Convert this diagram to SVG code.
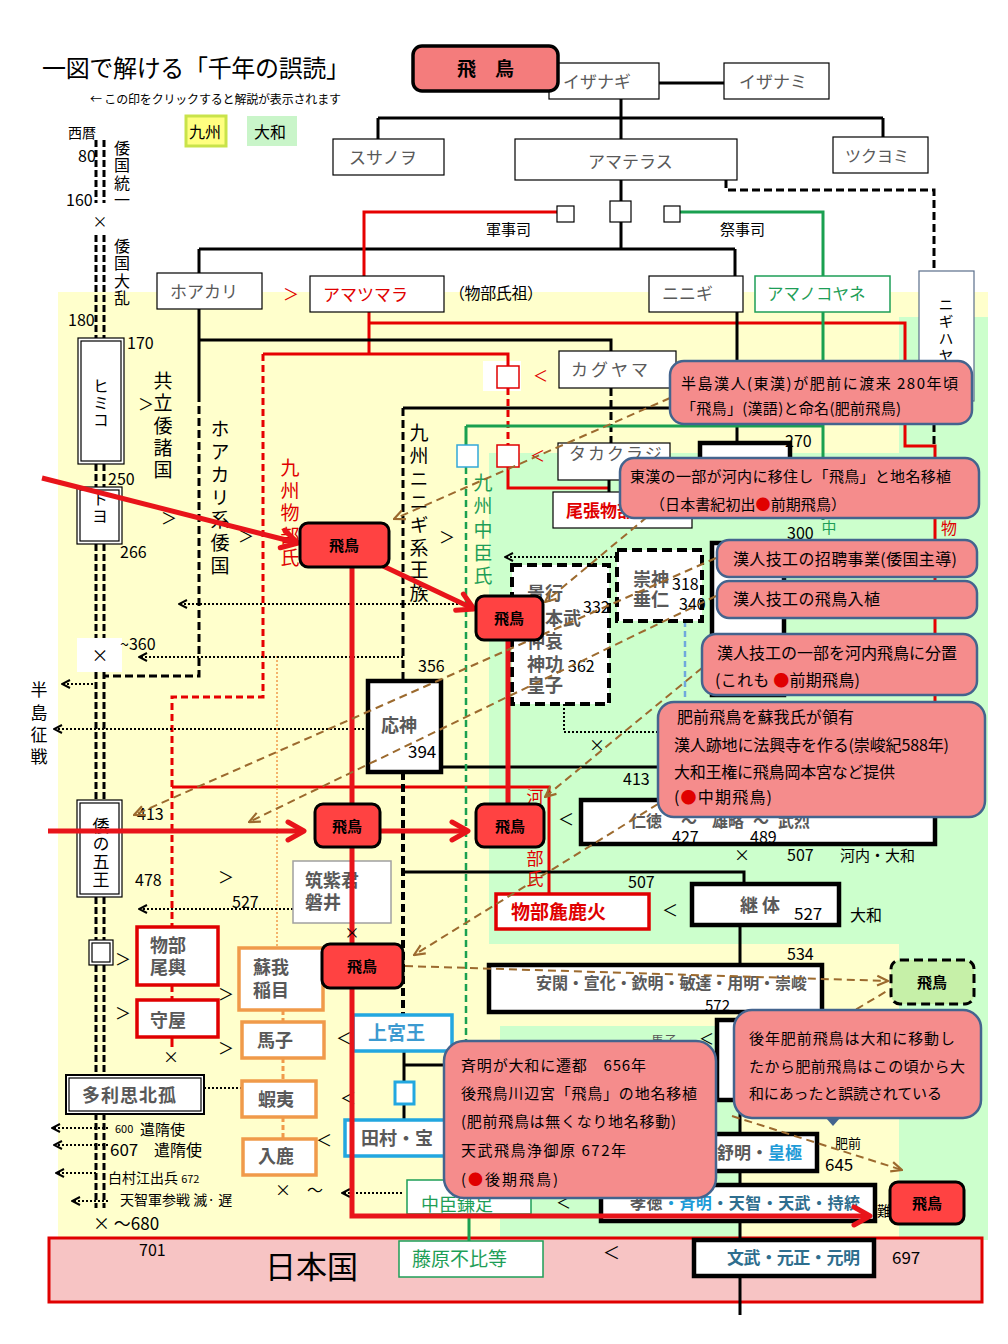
<svg xmlns="http://www.w3.org/2000/svg" width="1008" height="1344" viewBox="0 0 1008 1344">
<defs>
<style>
text{font-family:"Noto Sans CJK JP","Noto Sans CJK SC",sans-serif;fill:#000}
.v{writing-mode:vertical-rl}
.gy{fill:#595959}
.b{font-weight:bold}
.rt{fill:#E00000}
.gt{fill:#1E9E57}
.bt{fill:#1E9BD7}
.tt{fill:#2E6E8E}
.bx{fill:#fff;stroke:#000;stroke-width:1.2}
.bx4{fill:#fff;stroke:#000;stroke-width:4.5}
.bxr{fill:#fff;stroke:#E00000;stroke-width:3.5}
.bxo{fill:#fff;stroke:#F09A4A;stroke-width:3.5}
.bxc{fill:#fff;stroke:#22A7E0;stroke-width:3.5}
.bxg{fill:#fff;stroke:#1E9E57;stroke-width:1.5}
.bxd{fill:#fff;stroke:#000;stroke-width:4;stroke-dasharray:10 5}
.asu{fill:#FF4242;stroke:#000;stroke-width:3}
.cal{fill:#F58C8C;stroke:#44648E;stroke-width:2.5}
.ln{fill:none;stroke:#000;stroke-width:3}
.dl{fill:none;stroke:#000;stroke-width:3;stroke-dasharray:8 4}
.rl{fill:none;stroke:#E60000;stroke-width:3}
.rd{fill:none;stroke:#E60000;stroke-width:3;stroke-dasharray:7 4}
.gl{fill:none;stroke:#1AA050;stroke-width:3}
.gd{fill:none;stroke:#1AA050;stroke-width:2.5;stroke-dasharray:7 4}
.dt{fill:none;stroke:#000;stroke-width:2;stroke-dasharray:2 2}
.br{fill:none;stroke:#9C6A2E;stroke-width:2;stroke-dasharray:8 5}
.ra{fill:none;stroke:#E8141A;stroke-width:5}
.tl{fill:none;stroke:#000;stroke-width:3;stroke-dasharray:7 3}
.ct{font-size:15px}
</style>
<marker id="md" viewBox="0 0 10 10" refX="9" refY="5" markerWidth="10" markerHeight="10" orient="auto" markerUnits="userSpaceOnUse"><path d="M1,1L9,5L1,9" fill="none" stroke="#000" stroke-width="2"/></marker>
<marker id="mb" viewBox="0 0 12 12" refX="11" refY="6" markerWidth="13" markerHeight="13" orient="auto" markerUnits="userSpaceOnUse"><path d="M1,1.5L11,6L1,10.5" fill="none" stroke="#9C6A2E" stroke-width="2"/></marker>
<marker id="mr" viewBox="0 0 24 24" refX="21" refY="12" markerWidth="24" markerHeight="24" orient="auto" markerUnits="userSpaceOnUse"><path d="M5,3L21,12L5,21" fill="none" stroke="#E8141A" stroke-width="5" stroke-linecap="round" stroke-linejoin="round"/></marker>
</defs>

<!-- backgrounds -->
<rect width="1008" height="1344" fill="#fff"/>
<rect x="58" y="292" width="930" height="948" fill="#FFFFCC"/>
<rect x="899" y="317" width="89" height="923" fill="#CCFFCC"/>
<rect x="489" y="453" width="410" height="491" fill="#CCFFCC"/>
<rect x="500" y="1026" width="240" height="212" fill="#CCFFCC"/>
<rect x="49" y="1238" width="933" height="64" fill="#F7C4C4" stroke="#E00000" stroke-width="3"/>
<rect x="483" y="361" width="38" height="30" fill="#fff"/>
<rect x="77" y="638" width="45" height="34" fill="#fff"/>

<!-- header -->
<text x="42" y="77" font-size="24" textLength="308">一図で解ける「千年の誤読」</text>
<text x="90" y="104" font-size="12" textLength="251">← この印をクリックすると解説が表示されます</text>
<g id="legend-kyushu"><rect x="186" y="116" width="40" height="30" fill="#FFFF80" stroke="#C9E34A" stroke-width="3"/><text x="189" y="138" font-size="16">九州</text></g>
<g id="legend-yamato"><rect x="247" y="116" width="50" height="30" fill="#C9F5C9"/><text x="254" y="138" font-size="16">大和</text></g>

<!-- connectors -->
<g id="connectors">
<path class="tl" d="M96,140V203M104,140V203M96,235V338M104,235V338M96,464V487M104,464V487M96,544V638M104,544V638M96,672V800M104,672V800M96,897V940M104,897V940M96,965V1075M104,965V1075M96,1113V1208M104,1113V1208"/>
<path class="ln" d="M659,83H724M621,99V139M378,118H883M378,118V139M883,118V137M621,180V249M199,249H735M199,249V273M735,249V276"/>
<path class="dl" d="M726,180V190H934V271"/>
<path class="rl" d="M557,212H364V276"/>
<path class="gl" d="M680,212H823V276"/>
<path class="rl" d="M369,312V354M263,354H508V366M369,323H905V446H935V702"/>
<path class="rd" d="M263,354V697H172V927M172,985V1000M508,388V445"/>
<path class="rl" d="M172,787H549V894M508,467V488H609M172,1037V1047"/>
<path class="ln" d="M199,309V394M199,340H611V351M609,480V492"/>
<path class="dl" d="M199,394V676H104"/>
<path class="dl" d="M611,388V443"/>
<path class="ln" d="M737,312V443M403,408H737"/>
<path class="dl" d="M403,408V681"/>
<path class="dl" d="M403,772V1015" style="stroke-width:4"/>
<path class="ln" d="M403,872H744V884M441,767H700M740,923V1315"/>
<path class="dl" d="M934,400V446"/>
<path class="gl" d="M466,426H823M823,312V520M466,426V445M469,1214V1241"/>
<path class="gd" d="M466,467V1180"/>
<path d="M685,621V702" fill="none" stroke="#6FA8DC" stroke-width="2.5" stroke-dasharray="6 4"/>
<path d="M277,656V948" fill="none" stroke="#F09A4A" stroke-width="1.5" stroke-dasharray="2 2"/>
<path d="M283,1010V1022M283,1058V1081M283,1117V1139" fill="none" stroke="#F09A4A" stroke-width="3" stroke-dasharray="5 3"/>
<path class="ln" d="M404,1051V1082M404,1104V1120M404,1065H446"/>
<path class="dt" d="M470,604H179" marker-end="url(#md)"/>
<path class="dt" d="M403,657H139" marker-end="url(#md)"/>
<path class="dt" d="M97,684H62" marker-end="url(#md)"/>
<path class="dt" d="M368,729H54" marker-end="url(#md)"/>
<path class="dt" d="M293,909H139" marker-end="url(#md)"/>
<path class="dt" d="M616,557H505" marker-end="url(#md)"/>
<path class="dt" d="M204,1088H242"/>
<path class="dt" d="M108,1128H52" marker-end="url(#md)"/>
<path class="dt" d="M108,1145H54" marker-end="url(#md)"/>
<path class="dt" d="M96,1173H56" marker-end="url(#md)"/>
<path class="dt" d="M108,1201H72" marker-end="url(#md)"/>
<path class="dt" d="M402,1193H342" marker-end="url(#md)"/>
<path class="dt" d="M564,704V732H658"/>
</g>

<!-- nodes -->
<g id="n-izanagi"><rect class="bx" x="549" y="63" width="110" height="36"/><text class="gy" x="563" y="88" font-size="17">イザナギ</text></g>
<g id="n-asuka-title"><rect x="413" y="46" width="145" height="45" rx="9" fill="#F47C7C" stroke="#000" stroke-width="3.5"/><text class="b" x="485.5" y="76" font-size="19" text-anchor="middle">飛　鳥</text></g>
<g id="n-izanami"><rect class="bx" x="724" y="63" width="105" height="36"/><text class="gy" x="739" y="88" font-size="17">イザナミ</text></g>
<g id="n-susanoo"><rect class="bx" x="333" y="139" width="111" height="36"/><text class="gy" x="349" y="164" font-size="17">スサノヲ</text></g>
<g id="n-amaterasu"><rect class="bx" x="515" y="139" width="222" height="41"/><text class="gy" x="588" y="168" font-size="17">アマテラス</text></g>
<g id="n-tsukuyomi"><rect class="bx" x="833" y="137" width="95" height="36"/><text class="gy" x="845" y="162" font-size="16">ツクヨミ</text></g>
<g id="n-sq"><rect class="bx" x="610" y="201" width="21" height="21"/><rect class="bx" x="557" y="206" width="17" height="16"/><rect class="bx" x="664" y="206" width="16" height="16"/></g>
<text x="486" y="235" font-size="15">軍事司</text>
<text x="720" y="235" font-size="15">祭事司</text>
<g id="n-hoakari"><rect class="bx" x="157" y="273" width="105" height="36"/><text class="gy" x="170" y="298" font-size="17">ホアカリ</text></g>
<text class="rt" x="283" y="300" font-size="16">＞</text>
<g id="n-amatsumara"><rect class="bx" x="310" y="276" width="134" height="36"/><text class="rt" x="323" y="301" font-size="17">アマツマラ</text></g>
<text x="449" y="299" font-size="16" textLength="94">（物部氏祖）</text>
<g id="n-ninigi"><rect class="bx" x="649" y="276" width="94" height="36"/><text class="gy" x="662" y="300" font-size="17">ニニギ</text></g>
<g id="n-amanokoyane"><rect x="755" y="276" width="135" height="36" fill="#fff" stroke="#1E9E57" stroke-width="1.5"/><text class="gt" x="767" y="300" font-size="16.5">アマノコヤネ</text></g>
<g id="n-nigihayahi"><rect x="919" y="271" width="55" height="130" fill="#fff" stroke="#5A6E8A" stroke-width="1.2"/><text class="v" x="946" y="297" font-size="15" letter-spacing="2">ニギハヤ</text></g>

<g id="n-kaguyama"><rect class="bx" x="559" y="351" width="117" height="37"/><text class="gy" x="571" y="376" font-size="17" letter-spacing="3">カグヤマ</text></g>
<g id="n-redsq"><rect x="497" y="366" width="22" height="22" fill="#fff" stroke="#E00000" stroke-width="1.5"/><rect x="497" y="445" width="22" height="22" fill="#fff" stroke="#E00000" stroke-width="1.5"/><rect x="457" y="445" width="21" height="22" fill="#fff" stroke="#33A8D8" stroke-width="1.5"/></g>
<text class="rt" x="533" y="381" font-size="15">＜</text>
<text class="rt" x="530" y="461" font-size="15">＜</text>
<g id="n-takakuraji"><rect class="bx" x="558" y="443" width="112" height="37"/><text class="gy" x="569" y="460" font-size="17" letter-spacing="2">タカクラジ</text></g>
<g id="n-owari"><rect class="bx" x="553" y="492" width="139" height="36"/><text class="rt b" x="566" y="517" font-size="17">尾張物部</text></g>
<g id="n-jinmu"><rect class="bx4" x="700" y="443" width="90" height="70"/></g>
<rect class="bx4" x="712" y="543" width="72" height="152"/>
<text x="785" y="447" font-size="16">270</text>
<text x="787" y="539" font-size="16">300</text>

<!-- left column -->
<text x="68" y="138" font-size="14">西暦</text>
<text x="78" y="162" font-size="16">80</text>
<text x="66" y="206" font-size="16">160</text>
<text x="100" y="227" font-size="15" text-anchor="middle">×</text>
<text x="68" y="326" font-size="16">180</text>
<text x="127" y="349" font-size="16">170</text>
<text x="108" y="485" font-size="16">250</text>
<text x="120" y="558" font-size="16">266</text>
<text x="120" y="650" font-size="16">~360</text>
<text x="100" y="662" font-size="17" text-anchor="middle">×</text>
<text class="v" x="122" y="140" font-size="16" letter-spacing="1.3">倭国統一</text>
<text class="v" x="122" y="238" font-size="16" letter-spacing="1.3">倭国大乱</text>
<g id="n-himiko"><rect class="bx" x="78" y="338" width="46" height="126"/><rect class="bx" x="81" y="341" width="40" height="120"/><text class="v" x="101" y="378" font-size="16" letter-spacing="1">ヒミコ</text></g>
<g id="n-toyo"><rect class="bx" x="77" y="487" width="45" height="57"/><rect class="bx" x="80" y="490" width="39" height="51"/><text class="v" x="100" y="491" font-size="16" letter-spacing="1">トヨ</text></g>
<text class="v" x="163" y="371.5" font-size="19" letter-spacing="3.25">共立倭諸国</text>
<text x="138" y="410" font-size="16">＞</text>
<text x="161" y="524" font-size="16">＞</text>
<text class="v" x="220" y="419.5" font-size="19" letter-spacing="3.8">ホアカリ系倭国</text>
<text x="238" y="542" font-size="16">＞</text>
<text class="v rt" x="290" y="458.5" font-size="19" letter-spacing="3.5">九州物部氏</text>
<text class="v" x="419" y="423.5" font-size="19" letter-spacing="3.86">九州ニニギ系王族</text>
<text x="439" y="543" font-size="16">＞</text>
<text class="v gt" x="483" y="473.5" font-size="19" letter-spacing="4.25">九州中臣氏</text>
<text class="gt" x="829" y="533" font-size="15" text-anchor="middle">中</text>
<text class="rt" x="949" y="534" font-size="16" text-anchor="middle">物</text>
<text class="v" x="39" y="681.5" font-size="17" letter-spacing="5.3">半島征戦</text>

<g id="n-keiko"><rect class="bxd" x="512" y="565" width="97" height="139"/><text class="gy b" x="527" font-size="18"><tspan x="527" y="600">景行</tspan><tspan x="527" y="625">日本武</tspan><tspan x="527" y="648">仲哀</tspan><tspan x="527" y="671">神功</tspan><tspan x="527" y="692">皇子</tspan></text><text x="583" y="613" font-size="16">332</text><text x="568" y="672" font-size="16">362</text></g>
<g id="n-sujin"><rect class="bxd" x="617" y="550" width="85" height="71"/><text class="gy b" x="633" font-size="18"><tspan x="633" y="586">崇神</tspan><tspan x="633" y="606">垂仁</tspan></text><text x="672" y="590" font-size="16">318</text><text x="679" y="610" font-size="16">340</text></g>
<text x="418" y="672" font-size="16">356</text>
<g id="n-ojin"><rect class="bx4" x="368" y="681" width="73" height="91"/><text class="gy b" x="381" y="732" font-size="18">応神</text><text x="408" y="758" font-size="17">394</text></g>
<text x="623" y="785" font-size="16">413</text>
<text x="597" y="751" font-size="16" text-anchor="middle">×</text>
<text class="v rt" x="535" y="788.5" font-size="17" letter-spacing="3.5">河内物部氏</text>
<g id="n-nintoku"><rect class="bx4" x="581" y="800" width="354" height="44"/><text class="gy b" x="630" y="827" font-size="16">仁徳</text><text class="gy b" x="681" y="827" font-size="16">～</text><text class="gy b" x="712" y="827" font-size="16">雄略</text><text class="gy b" x="753" y="827" font-size="16">～</text><text class="gy b" x="778" y="827" font-size="16">武烈</text><text x="672" y="843" font-size="16">427</text><text x="750" y="843" font-size="16">489</text></g>
<text x="558" y="825" font-size="16">＜</text>
<text x="742" y="861" font-size="16" text-anchor="middle">×</text>
<text x="787" y="861" font-size="16">507</text>
<text x="840" y="861" font-size="15">河内・大和</text>
<text x="628" y="888" font-size="16">507</text>
<text x="662" y="916" font-size="16">＜</text>
<g id="n-keitai"><rect class="bx4" x="692" y="884" width="147" height="41"/><text class="gy b" x="740" y="912" font-size="18">継 体</text><text x="794" y="920" font-size="17">527</text></g>
<text x="850" y="921" font-size="16">大和</text>
<text x="787" y="960" font-size="16">534</text>
<g id="n-ankan"><rect class="bx4" x="489" y="965" width="333" height="47"/><text class="gy b" x="536" y="989" font-size="16" textLength="271">安閑・宣化・欽明・敏達・用明・崇峻</text><text x="705" y="1011" font-size="15">572</text></g>
<g id="n-ikaruga"><rect class="bx4" x="717" y="1020" width="90" height="80"/></g>
<text class="gy" x="651" y="1045" font-size="13">馬子</text>
<text x="699" y="1044" font-size="15">＜</text>
<g id="n-jomei"><rect class="bx4" x="690" y="1134" width="127" height="37"/><text class="b" x="717" y="1159" font-size="17"><tspan class="gy">舒明・</tspan><tspan class="bt">皇極</tspan></text></g>
<text x="835" y="1148" font-size="13">肥前</text>
<text x="825" y="1171" font-size="17">645</text>
<g id="n-kotoku"><rect class="bx4" x="601" y="1185" width="274" height="36"/><text class="b" x="630" y="1209" font-size="16" textLength="230"><tspan class="gy">孝徳</tspan><tspan class="bt">・斉明</tspan><tspan class="tt">・天智・天武・持統</tspan></text></g>
<text x="877" y="1216" font-size="14">難</text>
<text x="556" y="1208" font-size="15">＜</text>
<g id="n-monmu"><rect class="bx4" x="694" y="1240" width="180" height="36"/><text class="tt b" x="727" y="1264" font-size="17" textLength="133">文武・元正・元明</text></g>
<text x="892" y="1264" font-size="17">697</text>
<text x="603" y="1259" font-size="17">＜</text>

<g id="n-wa5"><rect class="bx" x="77" y="800" width="45" height="97"/><rect class="bx" x="80" y="803" width="39" height="91"/><text class="v" x="101" y="817.5" font-size="17" letter-spacing="1">倭の五王</text></g>
<text x="137" y="820" font-size="16">413</text>
<text x="135" y="886" font-size="16">478</text>
<text x="218" y="883" font-size="16">＞</text>
<text x="232" y="908" font-size="16">527</text>
<g id="n-iwai"><rect x="293" y="861" width="98" height="62" fill="#fff" stroke="#A0A0A0" stroke-width="1.5"/><text class="gy b" x="305" font-size="18"><tspan x="305" y="887">筑紫君</tspan><tspan x="305" y="909">磐井</tspan></text></g>
<g id="n-sq2"><rect class="bx" x="89" y="940" width="24" height="25"/><rect class="bx" x="92" y="943" width="18" height="19"/></g>
<text x="115" y="965" font-size="16">＞</text>
<text x="115" y="1019" font-size="16">＞</text>
<g id="n-okoshi"><rect class="bxr" x="137" y="927" width="81" height="58"/><text class="gy b" x="150" font-size="18"><tspan x="150" y="952">物部</tspan><tspan x="150" y="974">尾輿</tspan></text></g>
<g id="n-moriya"><rect class="bxr" x="137" y="1000" width="81" height="37"/><text class="gy b" x="150" y="1027" font-size="18">守屋</text></g>
<text x="171" y="1063" font-size="16" text-anchor="middle">×</text>
<text x="218" y="1000" font-size="16">＞</text>
<text x="218" y="1054" font-size="16">＞</text>
<g id="n-iname"><rect class="bxo" x="239" y="948" width="84" height="62"/><text class="gy b" x="253" font-size="18"><tspan x="253" y="974">蘇我</tspan><tspan x="253" y="997">稲目</tspan></text></g>
<g id="n-umako"><rect class="bxo" x="242" y="1022" width="82" height="36"/><text class="gy b" x="257" y="1047" font-size="18">馬子</text></g>
<g id="n-emishi"><rect class="bxo" x="242" y="1081" width="74" height="36"/><text class="gy b" x="258" y="1106" font-size="18">蝦夷</text></g>
<g id="n-iruka"><rect class="bxo" x="243" y="1139" width="73" height="36"/><text class="gy b" x="258" y="1163" font-size="18">入鹿</text></g>
<text x="275" y="1196" font-size="16">×　～</text>
<g id="n-tarishi"><rect x="66" y="1075" width="138" height="39" fill="#fff" stroke="#000" stroke-width="2"/><rect class="bx" x="69" y="1078" width="132" height="33"/><text class="gy b" x="82" y="1102" font-size="18" letter-spacing="1">多利思北孤</text></g>
<text x="115" y="1133" font-size="11">600</text>
<text x="140" y="1135" font-size="15">遣隋使</text>
<text x="110" y="1156" font-size="17">607</text>
<text x="154" y="1156" font-size="16">遣隋使</text>
<text x="108" y="1183" font-size="14">白村江出兵 <tspan font-size="11">672</tspan></text>
<text x="120" y="1205" font-size="14">天智軍参戦  滅· 遅</text>
<text x="93" y="1230" font-size="17">×  ～680</text>
<text x="139" y="1256" font-size="16">701</text>
<text x="265" y="1278" font-size="31">日本国</text>

<g id="n-arakabi"><rect class="bxr" x="496" y="894" width="153" height="35"/><text class="rt b" x="511" y="919" font-size="19">物部麁鹿火</text></g>
<g id="n-jogu"><rect class="bxc" x="353" y="1015" width="99" height="36"/><text class="b" x="368" y="1040" font-size="19" style="fill:#3C9AD0">上宮王</text></g>
<rect class="bxc" x="395" y="1082" width="19" height="22" style="stroke-width:3"/>
<g id="n-tamura"><rect class="bxc" x="345" y="1120" width="115" height="36"/><text class="gy b" x="361" y="1145" font-size="18">田村・宝</text></g>
<text x="336" y="1044" font-size="16">＜</text>
<text x="340" y="1104" font-size="16">＜</text>
<text x="316" y="1146" font-size="16">＜</text>
<g id="n-kamatari"><rect class="bxg" x="407" y="1180" width="124" height="34"/><text class="gt" x="421" y="1211" font-size="18">中臣鎌足</text></g>
<g id="n-fuhito"><rect class="bxg" x="399" y="1241" width="144" height="36"/><text class="gt" x="412" y="1266" font-size="19">藤原不比等</text></g>

<!-- thick red arrows and brown dashed links -->
<g id="connectors-over">
<path class="ra" d="M352,567V804M352,847V944"/>
<path class="ra" d="M352,988V1216H870" marker-end="url(#mr)"/>
<path class="ra" d="M508,640V804"/>
<path class="ra" d="M42,478L298,543" marker-end="url(#mr)"/>
<path class="ra" d="M383,566L474,609" marker-end="url(#mr)"/>
<path class="ra" d="M48,831H304" marker-end="url(#mr)"/>
<path class="ra" d="M380,831H468" marker-end="url(#mr)"/>
<path class="br" d="M670,398L394,519" marker-end="url(#mb)"/>
<path class="br" d="M647,517L545,602" marker-end="url(#mb)"/>
<path class="br" d="M716,558L134,815" marker-end="url(#mb)"/>
<path class="br" d="M716,596L249,822" marker-end="url(#mb)"/>
<path class="br" d="M702,668L545,797" marker-end="url(#mb)"/>
<path class="br" d="M658,804L414,955" marker-end="url(#mb)"/>
<path class="br" d="M405,966L888,981" marker-end="url(#mb)"/>
<path class="br" d="M845,1016L887,991"/>
<path class="br" d="M732,1116L902,1170" marker-end="url(#mb)"/>
</g>

<!-- Asuka nodes -->
<g id="n-asuka1"><rect class="asu" x="300" y="523" width="89" height="44" rx="8"/><text class="b" x="344" y="551" font-size="15" text-anchor="middle">飛鳥</text></g>
<g id="n-asuka2"><rect class="asu" x="476" y="596" width="67" height="44" rx="8"/><text class="b" x="509" y="624" font-size="15" text-anchor="middle">飛鳥</text></g>
<g id="n-asuka3"><rect class="asu" x="315" y="804" width="65" height="43" rx="8"/><text class="b" x="347" y="832" font-size="15" text-anchor="middle">飛鳥</text></g>
<g id="n-asuka4"><rect class="asu" x="476" y="804" width="68" height="43" rx="8"/><text class="b" x="510" y="832" font-size="15" text-anchor="middle">飛鳥</text></g>
<g id="n-asuka5"><rect class="asu" x="322" y="944" width="81" height="44" rx="8"/><text class="b" x="362" y="972" font-size="15" text-anchor="middle">飛鳥</text></g>
<g id="n-asuka6"><rect class="asu" x="890" y="1182" width="74" height="42" rx="8"/><text class="b" x="927" y="1209" font-size="15" text-anchor="middle">飛鳥</text></g>
<g id="n-asuka-green"><rect x="891" y="960" width="83" height="44" rx="9" fill="#C6F0A8" stroke="#000" stroke-width="3" stroke-dasharray="9 5"/><text class="b" x="932" y="988" font-size="15" text-anchor="middle">飛鳥</text></g>
<text x="352" y="938" font-size="15" text-anchor="middle">×</text>

<!-- callouts -->
<g id="c1"><rect class="cal" x="670" y="361" width="302" height="63" rx="14"/><text class="ct" x="681" y="389" textLength="277">半島漢人(東漢)が肥前に渡来 280年頃</text><text class="ct" x="681" y="414" textLength="220">「飛鳥」(漢語)と命名(肥前飛鳥)</text></g>
<g id="c2"><rect class="cal" x="620" y="458" width="359" height="60" rx="14"/><text class="ct" x="630" y="482" textLength="321">東漢の一部が河内に移住し「飛鳥」と地名移植</text><text class="ct" x="650" y="510" textLength="196">（日本書紀初出<tspan fill="#E00000">●</tspan>前期飛鳥）</text></g>
<g id="c3"><rect class="cal" x="717" y="540" width="260" height="37" rx="12"/><text x="733" y="565" font-size="16" textLength="224">漢人技工の招聘事業(倭国主導)</text></g>
<g id="c4"><rect class="cal" x="717" y="581" width="260" height="37" rx="12"/><text x="733" y="605" font-size="16" textLength="147">漢人技工の飛鳥入植</text></g>
<g id="c5"><rect class="cal" x="702" y="634" width="275" height="61" rx="14"/><text x="717" y="659" font-size="16" textLength="240">漢人技工の一部を河内飛鳥に分置</text><text x="715" y="686" font-size="16" textLength="145">(これも <tspan fill="#E00000">●</tspan>前期飛鳥)</text></g>
<g id="c6"><rect class="cal" x="658" y="702" width="327" height="115" rx="16"/><text x="677" y="723" font-size="16" textLength="177">肥前飛鳥を蘇我氏が領有</text><text x="674" y="751" font-size="16" textLength="275">漢人跡地に法興寺を作る(崇峻紀588年)</text><text x="674" y="778" font-size="16" textLength="221">大和王権に飛鳥岡本宮など提供</text><text x="674" y="803" font-size="16" textLength="98">(<tspan fill="#E00000">●</tspan>中期飛鳥)</text></g>
<g id="c7"><rect class="cal" x="444" y="1041" width="272" height="157" rx="20"/><text class="ct" x="461" y="1071" textLength="185">斉明が大和に遷都　656年</text><text class="ct" x="461" y="1099" textLength="236">後飛鳥川辺宮「飛鳥」の地名移植</text><text class="ct" x="461" y="1127" textLength="215">(肥前飛鳥は無くなり地名移動)</text><text class="ct" x="461" y="1156" textLength="165">天武飛鳥浄御原 672年</text><text class="ct" x="461" y="1185" textLength="97">(<tspan fill="#E00000">●</tspan>後期飛鳥)</text></g>
<g id="c8"><rect class="cal" x="734" y="1010" width="247" height="108" rx="18"/><polygon points="826,1118 840,1118 833,1126" fill="#44648E"/><text class="ct" x="749" y="1044" textLength="206">後年肥前飛鳥は大和に移動し</text><text class="ct" x="749" y="1072" textLength="216">たから肥前飛鳥はこの頃から大</text><text class="ct" x="749" y="1099" textLength="193">和にあったと誤読されている</text></g>
</svg>
